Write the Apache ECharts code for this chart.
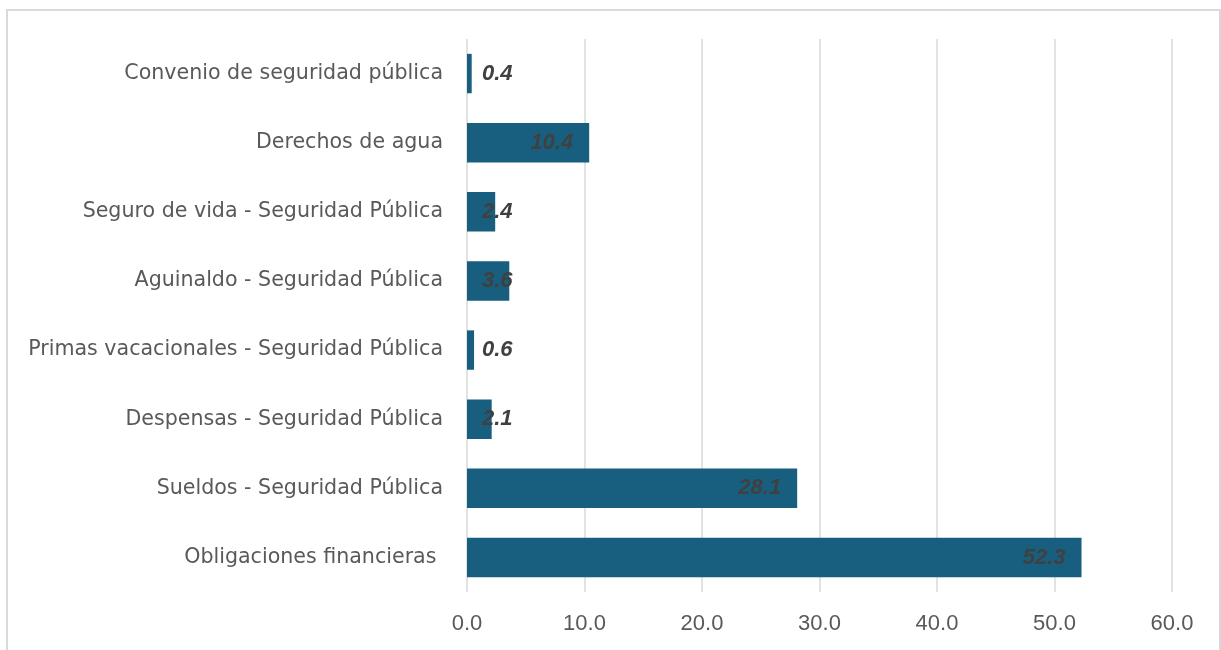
<!DOCTYPE html>
<html><head><meta charset="utf-8">
<script src="https://cdn.jsdelivr.net/npm/echarts@6/dist/echarts.min.js"></script>
<style>html,body{margin:0;padding:0;background:#fff}#c{width:1221px;height:650px}</style>
</head><body><div id="c"></div>
<script>
const categories = ["Convenio de seguridad pública","Derechos de agua","Seguro de vida - Seguridad Pública","Aguinaldo - Seguridad Pública","Primas vacacionales - Seguridad Pública","Despensas - Seguridad Pública","Sueldos - Seguridad Pública","Obligaciones financieras "];
const values = [0.4, 10.4, 2.4, 3.6, 0.6, 2.1, 28.1, 52.3];
const xTicks = [0, 10, 20, 30, 40, 50, 60];

const chart = echarts.init(document.getElementById('c'), null, {renderer:'canvas'});
const labelBase = {show:true, color:'#404040', fontSize:22, fontWeight:'bold', fontStyle:'italic', fontFamily:'"Liberation Sans", Arial, sans-serif', formatter: p => p.value.toFixed(1)};
chart.setOption({
  animation:false,
  graphic:[{type:'rect', shape:{x:7, y:10, width:1213, height:660}, style:{fill:'none', stroke:'#d9d9d9', lineWidth:2}, silent:true}],
  grid:{left:467, right:49, top:39, bottom:58},
  xAxis:{type:'value', min:xTicks[0], max:xTicks[xTicks.length-1], interval:10,
    axisLine:{show:false}, axisTick:{show:false},
    axisLabel:{color:'#595959', fontSize:22, fontFamily:'"Liberation Sans", Arial, sans-serif', margin:21, formatter:v=>v.toFixed(1)},
    splitLine:{show:true, lineStyle:{color:'#d9d9d9', width:1.5}}},
  yAxis:{type:'category', data:categories, inverse:true,
    axisLine:{show:false}, axisTick:{show:false},
    axisLabel:{color:'#595959', fontSize:20.6, fontFamily:'"DejaVu Sans"', margin:24}},
  series:[{type:'bar', barWidth:'57%',
    itemStyle:{color:'#185f7f'},
    data: values.map(v => ({value:v, label: v < 5
      ? Object.assign({}, labelBase, {position:[15,'50%'], align:'left', verticalAlign:'middle'})
      : Object.assign({}, labelBase, {position:'insideRight', distance:16})})),
    label: labelBase
  }]
});
</script></body></html>
